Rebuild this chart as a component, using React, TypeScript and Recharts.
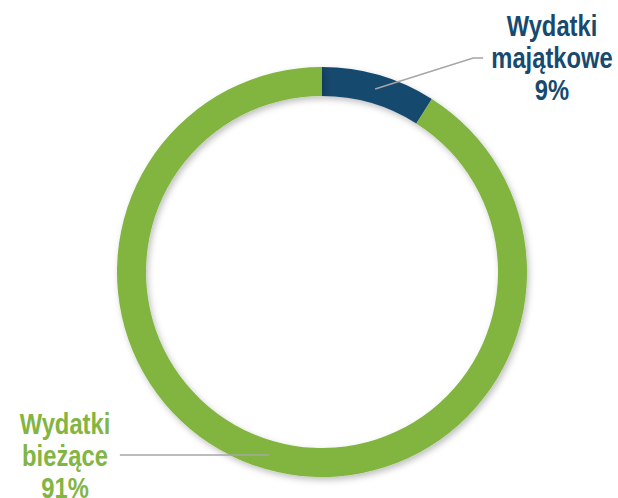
import { PieChart, Pie, Cell } from 'recharts';

const categories = ['Wydatki\nmajątkowe', 'Wydatki\nbieżące'];
const shares = [9, 91];
const colors = ['#174A6E', '#82B541'];

const data = categories.map((name, i) => ({ name, value: shares[i] }));

// label layout per slice: leader elbow/end offsets and text anchor offsets
const labelLayout = [
  { elbowDx: 98, elbowDy: -31, endDx: 108, textDx: 230, textDy: -22 },
  { elbowDx: -149, elbowDy: 0, endDx: -149, textDx: -257, textDy: -21 },
];

const RAD = Math.PI / 180;

function renderLabel(props: any) {
  const { cx, cy, midAngle, innerRadius, outerRadius, index, payload } = props;
  const r = (innerRadius + outerRadius) / 2;
  const sx = cx + r * Math.cos(-midAngle * RAD);
  const sy = cy + r * Math.sin(-midAngle * RAD);
  const l = labelLayout[index];
  const ex = sx + l.elbowDx;
  const ey = sy + l.elbowDy;
  const tx = sx + l.endDx;
  const lines = [...String(payload.name).split('\n'), `${payload.value}%`];
  const textX = cx + l.textDx;
  const textY = ey + l.textDy;
  return (
    <g>
      <polyline
        points={`${sx},${sy} ${ex},${ey} ${tx},${ey}`}
        fill="none"
        stroke="#A6A6A6"
        strokeWidth={1.5}
      />
      {/* narrow bold look: Liberation Sans bold squeezed horizontally */}
      <text
        transform={`translate(${textX},${textY}) scale(0.82,1)`}
        x={0}
        y={0}
        textAnchor="middle"
        fill={colors[index]}
        style={{
          fontFamily: '"Liberation Sans", Arial, sans-serif',
          fontWeight: 'bold',
          fontSize: 29,
        }}
      >
        {lines.map((line, i) => (
          <tspan key={i} x={0} dy={i === 0 ? 0 : 32}>
            {line}
          </tspan>
        ))}
      </text>
    </g>
  );
}

export default function App() {
  return (
    <div style={{ position: 'absolute', left: 0, top: 0, width: 618, height: 498, background: '#fff' }}>
      <PieChart width={618} height={498} margin={{ top: 0, right: 0, bottom: 0, left: 0 }}>
        <defs>
          <filter id="ringShadow" x="-20%" y="-20%" width="140%" height="140%">
            <feDropShadow dx="2" dy="3" stdDeviation="3" floodColor="#000" floodOpacity="0.25" />
          </filter>
        </defs>
        <Pie
          data={data}
          dataKey="value"
          cx={322}
          cy={272}
          innerRadius={176}
          outerRadius={205}
          startAngle={90}
          endAngle={-270}
          stroke="none"
          label={renderLabel}
          labelLine={false}
          isAnimationActive={false}
        >
          {data.map((d, i) => (
            <Cell key={d.name} fill={colors[i]} filter="url(#ringShadow)" />
          ))}
        </Pie>
      </PieChart>
    </div>
  );
}
